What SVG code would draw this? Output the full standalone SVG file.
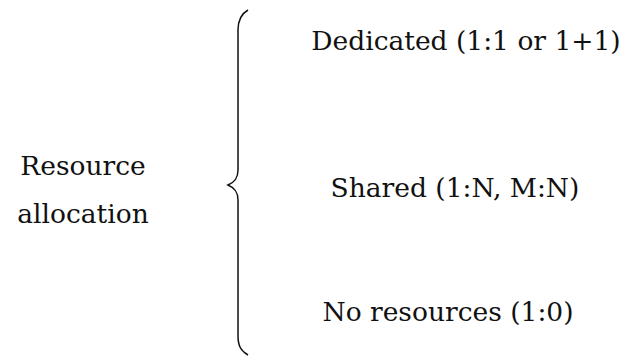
<svg xmlns="http://www.w3.org/2000/svg" width="629" height="358" viewBox="0 0 629 358">
<style>
text{font-family:"DejaVu Serif","Liberation Serif",serif;font-size:26.5px;fill:#111;}
.brace{fill:none;stroke:#111;stroke-width:1.5;}
</style>
<rect width="629" height="358" fill="#fff"/>
<g id="root"><text x="83" y="175" text-anchor="middle">Resource</text><text x="83" y="223" text-anchor="middle">allocation</text></g>
<g id="connectors"><path class="brace" d="M248,10 C241,14 238,20 238,30 L238,170 C238,178 235,182 228,185 C235,188 238,192 238,200 L238,336 C238,346 241,351 248,355"/></g>
<g id="dedicated"><text x="466" y="50" text-anchor="middle">Dedicated (1:1 or 1+1)</text></g>
<g id="shared"><text x="455" y="197" text-anchor="middle">Shared (1:N, M:N)</text></g>
<g id="none"><text x="448" y="321" text-anchor="middle">No resources (1:0)</text></g>
</svg>
